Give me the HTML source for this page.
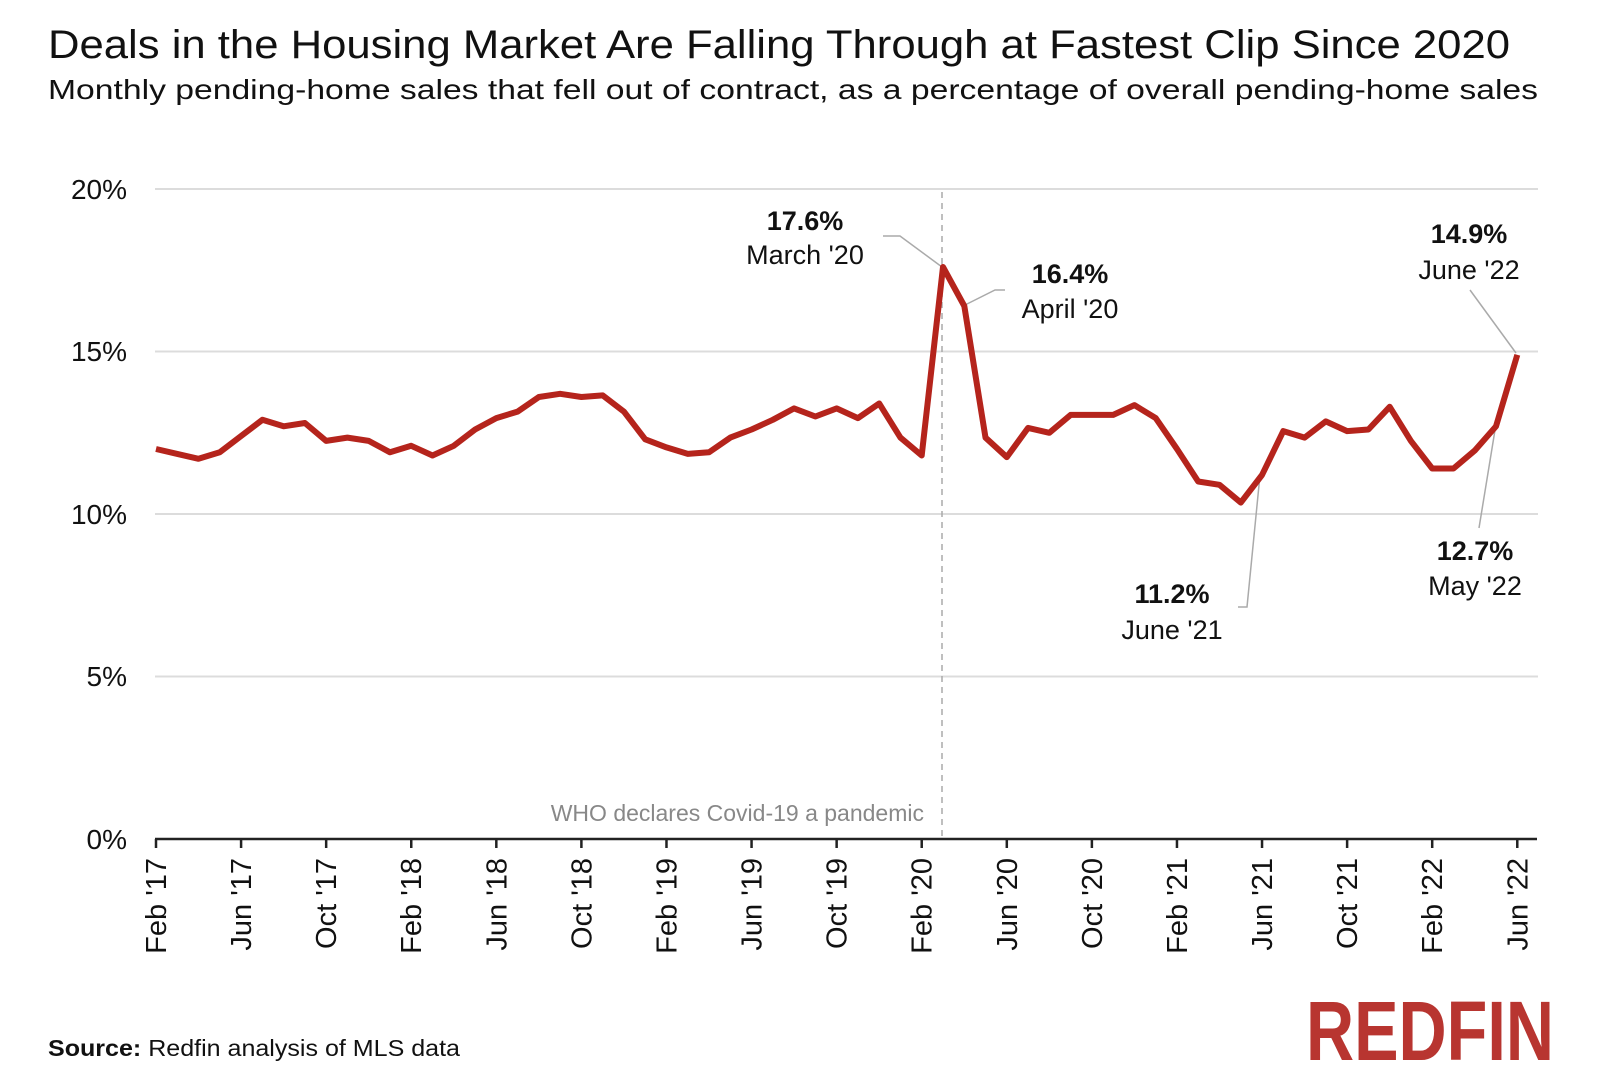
<!DOCTYPE html>
<html><head><meta charset="utf-8"><style>
html,body{margin:0;padding:0;background:#fff;}
svg{display:block;font-family:"Liberation Sans",sans-serif;}
</style></head><body>
<svg id="c" width="1614" height="1080" xmlns="http://www.w3.org/2000/svg">
<text x="48" y="58" font-size="40" fill="#111" textLength="1462" lengthAdjust="spacingAndGlyphs">Deals in the Housing Market Are Falling Through at Fastest Clip Since 2020</text>
<text x="48" y="99" font-size="28" fill="#111" textLength="1490" lengthAdjust="spacingAndGlyphs">Monthly pending-home sales that fell out of contract, as a percentage of overall pending-home sales</text>
<g stroke="#dcdcdc" stroke-width="2">
<line x1="155" x2="1538" y1="189" y2="189"/><line x1="155" x2="1538" y1="351.5" y2="351.5"/>
<line x1="155" x2="1538" y1="514" y2="514"/><line x1="155" x2="1538" y1="676.5" y2="676.5"/>
</g>
<g font-size="28" fill="#111" text-anchor="end">
<text x="127" y="199">20%</text><text x="127" y="361">15%</text><text x="127" y="524">10%</text><text x="127" y="686">5%</text><text x="127" y="849">0%</text>
</g>
<line x1="942" x2="942" y1="192" y2="839" stroke="#aaa" stroke-width="1.5" stroke-dasharray="6,5"/>
<text x="924" y="821" font-size="23" fill="#888" text-anchor="end">WHO declares Covid-19 a pandemic</text>
<line x1="155" x2="1537" y1="839" y2="839" stroke="#222" stroke-width="2.5"/>
<g id="ticks"></g>
<g stroke="#aaa" stroke-width="1.5" fill="none">
<polyline points="883,236 900,236 942,267"/>
<polyline points="965,305 995,290 1005,290"/>
<polyline points="1470,290 1516,353"/>
<polyline points="1496,424 1479,528"/>
<polyline points="1260,475 1247,607 1238,607"/>
</g>
<polyline id="line" fill="none" stroke="#b5241c" stroke-width="6" stroke-linejoin="round"/>
<g font-size="27" fill="#111" text-anchor="middle">
<text x="805" y="230" font-weight="bold">17.6%</text><text x="805" y="264">March '20</text>
<text x="1070" y="283" font-weight="bold">16.4%</text><text x="1070" y="318">April '20</text>
<text x="1469" y="243" font-weight="bold">14.9%</text><text x="1469" y="279">June '22</text>
<text x="1475" y="560" font-weight="bold">12.7%</text><text x="1475" y="595">May '22</text>
<text x="1172" y="603" font-weight="bold">11.2%</text><text x="1172" y="639">June '21</text>
</g>
<text x="48" y="1056" font-size="23" fill="#111" textLength="412" lengthAdjust="spacingAndGlyphs"><tspan font-weight="bold">Source:</tspan> Redfin analysis of MLS data</text>
<text x="1306" y="1060" font-size="84" font-weight="bold" fill="#b83530" textLength="248" lengthAdjust="spacingAndGlyphs" font-family="Liberation Sans Narrow, Liberation Sans, sans-serif">REDFIN</text>
</svg>
<script>
var d=[12.0,11.85,11.7,11.9,12.4,12.9,12.7,12.8,12.25,12.35,12.25,11.9,12.1,11.8,12.1,12.6,12.95,13.15,13.6,13.7,13.6,13.65,13.15,12.3,12.05,11.85,11.9,12.35,12.6,12.9,13.25,13.0,13.25,12.95,13.4,12.35,11.8,17.6,16.4,12.35,11.75,12.65,12.5,13.05,13.05,13.05,13.35,12.95,12.0,11.0,10.9,10.35,11.2,12.55,12.35,12.85,12.55,12.6,13.3,12.25,11.4,11.4,11.95,12.7,14.9];
var X=function(i){return 156+i*21.27;},Y=function(v){return 839-v*32.5;};
document.getElementById('line').setAttribute('points',d.map(function(v,i){return X(i).toFixed(1)+','+Y(v).toFixed(1);}).join(' '));
var labs=["Feb '17","Jun '17","Oct '17","Feb '18","Jun '18","Oct '18","Feb '19","Jun '19","Oct '19","Feb '20","Jun '20","Oct '20","Feb '21","Jun '21","Oct '21","Feb '22","Jun '22"];
var g=document.getElementById('ticks'),h='';
labs.forEach(function(l,k){var x=X(k*4);h+='<line x1="'+x+'" x2="'+x+'" y1="839" y2="848" stroke="#222" stroke-width="2.5"/>';
h+='<text transform="translate('+(x+10)+',858) rotate(-90)" text-anchor="end" font-size="29" fill="#111">'+l+'</text>';});
g.innerHTML=h;
</script>
</body></html>
